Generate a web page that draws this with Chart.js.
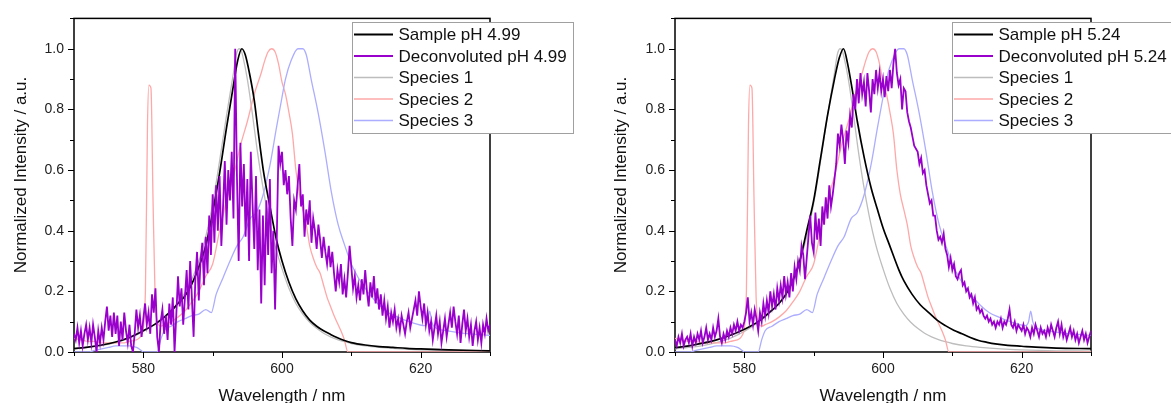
<!DOCTYPE html>
<html>
<head>
<meta charset="utf-8">
<title>Deconvoluted spectra</title>
<script src="https://cdn.jsdelivr.net/npm/chart.js"></script>
<style>
  html, body { margin: 0; padding: 0; background: #fff; overflow: hidden; }
  .panel { position: absolute; top: 0; height: 403px; }
</style>
</head>
<body>
<div class="panel" style="left:0;width:600px"><canvas id="leftChart" width="600" height="403"></canvas></div>
<div class="panel" style="left:600px;width:571px"><canvas id="rightChart" width="571" height="403"></canvas></div>

<script>
// axis ticks / labels
const xMajorTicks = [580, 600, 620];
const yTickLabels = ['0.0', '0.2', '0.4', '0.6', '0.8', '1.0'];
const legendLabelsLeft = ['Sample pH 4.99', 'Deconvoluted pH 4.99', 'Species 1', 'Species 2', 'Species 3'];
const legendLabelsRight = ['Sample pH 5.24', 'Deconvoluted pH 5.24', 'Species 1', 'Species 2', 'Species 3'];

// Sample pH 4.99 (black, left)
const sampleLeftWl = [570,572,574,576,578,580,582,584,585,586,587,588,589,590,591,592,593,593.6,594.2,594.7,595.3,596,596.6,597.3,598.3,599.2,600,601,602,603,604,605,606,607,608,609,610,612,614,616,618,620,624,630];
const sampleLeft = [0.011,0.016,0.023,0.033,0.048,0.07,0.097,0.135,0.16,0.185,0.225,0.28,0.35,0.46,0.59,0.74,0.88,0.96,1.0,0.98,0.92,0.83,0.72,0.6,0.475,0.37,0.3,0.23,0.175,0.135,0.105,0.085,0.07,0.058,0.047,0.038,0.031,0.023,0.018,0.015,0.012,0.01,0.007,0.004];

// Sample pH 5.24 (black, right)
const sampleRightWl = [570,572,574,576,578,580,582,584,585,586,587,588,589,590,591,592,593,593.7,594.3,594.9,595.6,596.3,597.3,598.3,599.2,600,600.9,602.3,603,604.2,605.4,606.6,607.8,609,610.2,611.4,612.6,613.8,615,616.2,618,620,622,625,630];
const sampleRight = [0.014,0.02,0.029,0.04,0.055,0.075,0.1,0.138,0.16,0.19,0.235,0.3,0.4,0.5,0.64,0.78,0.9,0.97,1.0,0.95,0.86,0.76,0.64,0.54,0.47,0.41,0.355,0.27,0.235,0.19,0.155,0.13,0.105,0.087,0.072,0.06,0.048,0.038,0.032,0.027,0.022,0.019,0.016,0.013,0.011];

// Species 1 (grey)
const species1Wl = [570,572,574,576,578,580,582,584,585,586,587,588,589,590,591,592,593,593.4,593.8,594.1,594.4,595,595.7,596.4,597.2,598,599,600,601,602,603,604,605,606,607,608,609,610,612,614,617,620,625,630];
const species1 = [0.01,0.015,0.021,0.031,0.046,0.068,0.097,0.137,0.163,0.195,0.24,0.3,0.38,0.49,0.63,0.78,0.92,0.98,1.0,0.995,0.97,0.9,0.79,0.67,0.55,0.45,0.35,0.275,0.21,0.16,0.125,0.098,0.078,0.062,0.05,0.041,0.034,0.028,0.02,0.015,0.01,0.007,0.004,0.003];

// Species 2 (pink)
const species2Wl = [570,571,572,573,574,575,576,577,578,579,579.8,580.3,580.6,580.8,581.1,581.4,581.7,582,582.5,583,584,585,586,587,588,589,590,591,592,593,594,595,596,597,597.5,598,598.5,599,599.5,600,600.5,601,601.5,602,602.5,603,603.5,604,604.5,605,605.5,606,606.5,607,607.5,608,608.5,609,609.5,610,630];
const species2 = [0.045,0.04,0.035,0.035,0.03,0.03,0.03,0.03,0.035,0.04,0.06,0.2,0.75,0.88,0.87,0.5,0.18,0.1,0.085,0.09,0.1,0.115,0.135,0.165,0.2,0.25,0.29,0.4,0.5,0.58,0.68,0.76,0.85,0.92,0.96,0.99,1.0,0.99,0.95,0.89,0.85,0.79,0.72,0.6,0.52,0.47,0.42,0.35,0.31,0.28,0.26,0.22,0.18,0.15,0.12,0.095,0.07,0.04,0,0,0];

// Species 3 (light blue)
const species3Wl = [570,572,573,574,575,576,577,578,579,579.7,580,582,582.5,583,584,585,586,587,588,589,589.8,590.5,591.5,592.5,593.5,594.4,595.4,596.3,597.3,598.3,599.2,600,600.5,601.3,602.3,603,603.5,604.2,605.2,606.2,607.1,608.1,609,610,611,612,613,614,615.3,616.7,618.6,620.6,621,621.3,621.6,622,623.5,626,628.3,630];
const species3 = [0,0,0.005,0.01,0.015,0.02,0.02,0.02,0.015,0.005,0,0,0.04,0.07,0.085,0.1,0.11,0.12,0.125,0.14,0.13,0.19,0.245,0.3,0.35,0.38,0.44,0.46,0.52,0.62,0.74,0.84,0.9,0.96,1.0,1.0,0.98,0.9,0.79,0.66,0.53,0.42,0.355,0.29,0.245,0.21,0.18,0.155,0.13,0.115,0.098,0.087,0.1,0.135,0.1,0.082,0.071,0.062,0.058,0.055];

// Deconvoluted spectra, sampled every 0.25 nm from 570 nm
const gridStart = 570, gridStep = 0.25;
const deconvLeft = [
  0.06,0.04,0.08,0.03,0.07,0.02,0.06,0.09,0.04,0.08,0.03,0.09,0.05,0.00,0.07,0.03,0.08,0.04,0.10,0.15,
  0.07,0.12,0.05,0.13,0.06,0.12,0.02,0.10,0.04,0.13,0.07,0.03,0.09,0.02,0.00,0.06,0.14,0.08,0.12,0.05,
  0.11,0.16,0.09,0.13,0.06,0.19,0.13,0.21,0.05,0.00,0.10,0.14,0.06,0.12,0.04,0.16,0.09,0.18,0.00,0.12,
  0.25,0.15,0.21,0.09,0.18,0.27,0.14,0.30,0.18,0.05,0.24,0.33,0.17,0.30,0.36,0.22,0.38,0.26,0.45,0.32,
  0.52,0.36,0.55,0.40,0.58,0.35,0.48,0.63,0.42,0.60,0.50,0.66,0.44,1.00,0.58,0.30,0.69,0.48,0.62,0.38,
  0.57,0.30,0.66,0.49,0.34,0.58,0.27,0.47,0.16,0.45,0.22,0.50,0.32,0.57,0.26,0.40,0.14,0.38,0.68,0.62,
  0.66,
  0.55,0.60,0.52,0.58,0.44,0.35,0.50,0.47,0.55,0.62,0.48,0.52,0.38,0.47,0.42,0.50,0.36,0.44,0.40,0.34,
  0.42,0.37,0.31,0.38,0.33,0.29,0.35,0.28,0.33,0.26,0.20,0.27,0.23,0.29,0.19,0.24,0.18,0.26,0.35,0.28,
  0.21,0.25,0.18,0.22,0.17,0.24,0.19,0.27,0.20,0.15,0.23,0.18,0.25,0.16,0.21,0.14,0.19,0.12,0.17,0.11,
  0.15,0.08,0.13,0.10,0.14,0.08,0.11,0.07,0.12,0.09,0.06,0.10,0.13,0.08,0.11,0.14,0.17,0.12,0.20,0.15,
  0.11,0.16,0.09,0.13,0.07,0.10,0.04,0.08,0.12,0.06,0.10,0.03,0.07,0.11,0.05,0.09,0.13,0.08,0.15,0.10,
  0.06,0.12,0.03,0.09,0.14,0.07,0.11,0.05,0.09,0.02,0.07,0.10,0.04,0.08,0.03,0.09,0.06,0.11,0.07,0.09
];
const deconvRight = [
  0.04,0.02,0.05,0.03,0.06,0.02,0.04,0.05,0.03,0.06,0.02,0.05,0.03,0.06,0.04,0.07,0.03,0.05,0.08,0.04,
  0.06,0.04,0.08,0.05,0.07,0.11,0.05,0.03,0.06,0.04,0.07,0.05,0.08,0.06,0.09,0.07,0.10,0.07,0.09,0.08,
  0.10,0.13,0.18,0.10,0.13,0.09,0.14,0.11,0.07,0.13,0.10,0.16,0.12,0.17,0.13,0.20,0.15,0.19,0.14,0.21,
  0.17,0.22,0.18,0.25,0.19,0.23,0.18,0.26,0.20,0.28,0.24,0.30,0.27,0.35,0.32,0.24,0.31,0.38,0.45,0.36,
  0.33,0.46,0.37,0.44,0.35,0.48,0.42,0.51,0.44,0.55,0.48,0.52,0.57,0.62,0.72,0.68,0.75,0.70,0.62,0.73,
  0.69,0.78,0.74,0.85,0.80,0.90,0.82,0.92,0.85,0.89,0.81,0.92,0.86,0.79,0.90,0.85,0.93,0.87,0.92,0.86,
  0.90,
  0.84,0.91,0.86,0.93,0.87,0.95,1.00,0.92,0.88,0.90,0.80,0.87,0.86,0.79,0.76,0.74,0.71,0.68,0.67,0.66,
  0.62,0.64,0.59,0.60,0.55,0.52,0.49,0.50,0.45,0.45,0.40,0.37,0.38,0.36,0.39,0.34,0.32,0.28,0.31,0.27,
  0.29,0.25,0.24,0.26,0.27,0.22,0.23,0.20,0.21,0.18,0.19,0.16,0.18,0.14,0.15,0.13,0.14,0.12,0.11,0.12,
  0.10,0.11,0.09,0.10,0.08,0.10,0.09,0.11,0.08,0.10,0.09,0.11,0.14,0.09,0.08,0.10,0.07,0.09,0.08,0.07,
  0.09,0.06,0.08,0.07,0.05,0.08,0.06,0.09,0.07,0.05,0.08,0.06,0.07,0.05,0.08,0.06,0.09,0.07,0.05,0.08,
  0.10,0.06,0.09,0.05,0.07,0.04,0.06,0.08,0.05,0.07,0.04,0.06,0.03,0.05,0.07,0.04,0.06,0.03,0.05,0.07
];

const FONT = 'Arial, "Liberation Sans", sans-serif';
const COLORS = { sample: '#000000', deconv: '#9900cc', s1: '#bdbdbd', s2: '#ffa8a8', s3: '#adadff' };

function toPoints(xs, ys) {
  return xs.map((x, i) => ({ x: x, y: ys[i] }));
}
function gridPoints(ys) {
  return ys.map((y, i) => ({ x: gridStart + i * gridStep, y: y }));
}

// frame + outward major/minor tick marks
const framePlugin = {
  id: 'frame',
  beforeDatasetsDraw(chart) {
    const { ctx, chartArea: a, scales } = chart;
    ctx.save();
    ctx.strokeStyle = '#000';
    ctx.lineWidth = 1.5;
    ctx.strokeRect(a.left, a.top, a.right - a.left, a.bottom - a.top);
    ctx.lineWidth = 1;
    ctx.beginPath();
    scales.x.ticks.forEach(t => {
      const px = Math.round(scales.x.getPixelForValue(t.value)) + 0.5;
      const len = xMajorTicks.includes(t.value) ? 6 : 4;
      ctx.moveTo(px, a.bottom);
      ctx.lineTo(px, a.bottom + len);
    });
    scales.y.ticks.forEach(t => {
      const py = Math.round(scales.y.getPixelForValue(t.value)) + 0.5;
      const len = Math.round(t.value * 10) % 2 === 0 ? 6 : 4;
      ctx.moveTo(a.left, py);
      ctx.lineTo(a.left - len, py);
    });
    ctx.stroke();
    ctx.restore();
  }
};

// axis titles and a boxed legend in the top right corner
const labelPlugin = {
  id: 'boxLegend',
  afterDraw(chart, args, opts) {
    const { ctx, chartArea: a } = chart;
    ctx.save();
    ctx.fillStyle = '#111';
    ctx.font = '17px ' + FONT;
    ctx.textAlign = 'center';
    ctx.textBaseline = 'alphabetic';
    ctx.fillText('Wavelength / nm', (a.left + a.right) / 2, 400.5);
    ctx.save();
    ctx.translate(25.5, 175);
    ctx.rotate(-Math.PI / 2);
    ctx.fillText('Normalized Intensity / a.u.', 0, 0);
    ctx.restore();

    // legend box
    ctx.fillStyle = '#fff';
    ctx.fillRect(opts.x, opts.y, opts.w, opts.h);
    ctx.strokeStyle = '#a0a0a0';
    ctx.lineWidth = 1;
    ctx.strokeRect(opts.x + 0.5, opts.y + 0.5, opts.w, opts.h);
    ctx.textAlign = 'left';
    ctx.textBaseline = 'middle';
    opts.labels.forEach((label, i) => {
      const ds = chart.data.datasets.find(d => d.label === label);
      const cy = opts.y + 12.5 + i * 21.5;
      ctx.strokeStyle = ds.borderColor;
      ctx.lineWidth = i < 2 ? 2 : 1.6;
      ctx.beginPath();
      ctx.moveTo(opts.x + 2, cy);
      ctx.lineTo(opts.x + 41, cy);
      ctx.stroke();
      ctx.fillStyle = '#111';
      ctx.fillText(label, opts.x + 46.5, cy + 1);
    });
    ctx.restore();
  }
};

function makeChart(id, sampleWl, sample, deconv, labels, padRight, padLeft) {
  const smooth = { pointRadius: 0, fill: false, cubicInterpolationMode: 'monotone' };
  return new Chart(document.getElementById(id), {
    type: 'line',
    data: {
      datasets: [
        Object.assign({ label: labels[2], data: toPoints(species1Wl, species1), borderColor: COLORS.s1, borderWidth: 1.3, order: 4 }, smooth),
        Object.assign({ label: labels[3], data: toPoints(species2Wl, species2), borderColor: COLORS.s2, borderWidth: 1.3, order: 3 }, smooth),
        Object.assign({ label: labels[4], data: toPoints(species3Wl, species3), borderColor: COLORS.s3, borderWidth: 1.3, order: 2 }, smooth),
        Object.assign({ label: labels[0], data: toPoints(sampleWl, sample), borderColor: COLORS.sample, borderWidth: 1.7, order: 1 }, smooth),
        { label: labels[1], data: gridPoints(deconv), borderColor: COLORS.deconv, borderWidth: 1.8, pointRadius: 0, fill: false, tension: 0, order: 0 }
      ]
    },
    options: {
      responsive: false,
      animation: false,
      layout: { padding: { left: padLeft, right: padRight, top: 16, bottom: 0 } },
      plugins: {
        legend: { display: false },
        tooltip: { enabled: false },
        boxLegend: { x: 352, y: 22, w: 221, h: 111, labels: labels }
      },
      scales: {
        x: {
          type: 'linear', min: 570, max: 630,
          afterFit: s => { s.height = 51; },
          grid: { display: false, drawTicks: false },
          border: { display: false },
          ticks: {
            stepSize: 10, autoSkip: false, maxRotation: 0, padding: 9,
            color: '#222', font: { family: FONT, size: 14 },
            callback: v => xMajorTicks.includes(v) ? String(v) : ''
          }
        },
        y: {
          min: 0, max: 1.1,
          afterFit: s => { s.width = 74; },
          grid: { display: false, drawTicks: false },
          border: { display: false },
          ticks: {
            stepSize: 0.1, autoSkip: false, padding: 10,
            color: '#222', font: { family: FONT, size: 14 },
            callback: v => {
              const k = Math.round(v * 10);
              return k % 2 === 0 && k <= 10 ? yTickLabels[k / 2] : '';
            }
          }
        }
      }
    },
    plugins: [framePlugin, labelPlugin]
  });
}

makeChart('leftChart', sampleLeftWl, sampleLeft, deconvLeft, legendLabelsLeft, 110, 0);
makeChart('rightChart', sampleRightWl, sampleRight, deconvRight, legendLabelsRight, 80, 1);
</script>
</body>
</html>
